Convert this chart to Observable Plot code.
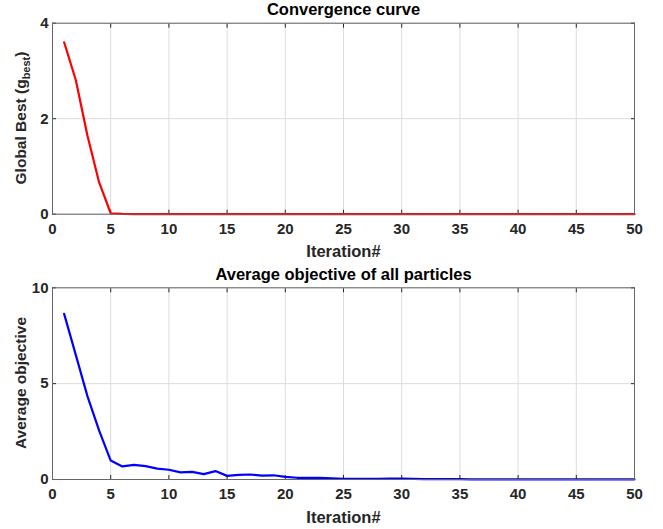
<!DOCTYPE html>
<html>
<head>
<meta charset="utf-8">
<script src="https://cdn.jsdelivr.net/npm/d3@7"></script>
<script src="https://cdn.jsdelivr.net/npm/@observablehq/plot@0.6"></script>
<style>
  body { margin: 0; background: #fff; }
  #wrap { width: 663px; }
  svg { display: block; overflow: visible; }
</style>
</head>
<body>
<div id="wrap"></div>
<script>
const iterations = d3.range(1, 51);
const gBest = [3.6, 2.81, 1.65, 0.67, 0.02, 0.005, 0, 0, 0, 0,
  0, 0, 0, 0, 0, 0, 0, 0, 0, 0,
  0, 0, 0, 0, 0, 0, 0, 0, 0, 0,
  0, 0, 0, 0, 0, 0, 0, 0, 0, 0,
  0, 0, 0, 0, 0, 0, 0, 0, 0, 0];
const avgObjective = [8.64, 6.5, 4.35, 2.56, 0.99, 0.68, 0.76, 0.7, 0.57, 0.51,
  0.37, 0.4, 0.28, 0.44, 0.19, 0.24, 0.26, 0.2, 0.22, 0.14,
  0.09, 0.09, 0.08, 0.06, 0.04, 0.04, 0.03, 0.04, 0.05, 0.05,
  0.03, 0.02, 0.02, 0.02, 0.02, 0.01, 0.01, 0.01, 0.01, 0.01,
  0.01, 0.01, 0.01, 0.01, 0.01, 0.01, 0.01, 0.01, 0.01, 0.01];
const xTicks = [0, 5, 10, 15, 20, 25, 30, 35, 40, 45, 50];
const topYTicks = [0, 2, 4];
const botYTicks = [0, 5, 10];
const topTitle = "Convergence curve";
const botTitle = "Average objective of all particles";
const xLabel = "Iteration#";

const FONT = "'Liberation Sans', Arial, Helvetica, sans-serif";
const axisColor = "#262626";

function panel({values, color, yDomain, yTicks, title, height, marginTop, marginBottom, titleTop}) {
  const data = iterations.map((it, i) => ({it, v: values[i]}));
  return Plot.plot({
    width: 663,
    height,
    marginLeft: 52,
    marginRight: 29,
    marginTop,
    marginBottom,
    style: {fontFamily: FONT, fontSize: "15px", fontWeight: "bold", color: axisColor, background: "#fff"},
    x: {domain: [0, 50], ticks: xTicks, label: null},
    y: {domain: yDomain, ticks: yTicks, label: null},
    marks: [
      Plot.gridX(xTicks, {stroke: "#dcdcdc", strokeOpacity: 1}),
      Plot.gridY(yTicks, {stroke: "#dcdcdc", strokeOpacity: 1}),
      Plot.axisX(xTicks, {anchor: "bottom", tickSize: -4, text: null, stroke: axisColor}),
      Plot.axisX(xTicks, {anchor: "top", tickSize: -4, text: null, stroke: axisColor, label: null}),
      Plot.axisX(xTicks, {anchor: "bottom", tickSize: 0, tickPadding: 9, fontSize: 15, fontWeight: "bold", label: null}),
      Plot.axisY(yTicks, {anchor: "left", tickSize: -4, text: null, stroke: axisColor}),
      Plot.axisY(yTicks, {anchor: "right", tickSize: -4, text: null, stroke: axisColor, label: null}),
      Plot.axisY(yTicks, {anchor: "left", tickSize: 0, tickPadding: 4, fontSize: 15, fontWeight: "bold", label: null}),
      Plot.line(data, {x: "it", y: "v", stroke: color, strokeWidth: 2.2}),
      Plot.frame({stroke: "#666", strokeWidth: 1}),
      Plot.text([title], {frameAnchor: "top", dy: -marginTop + titleTop, fontSize: 16.5, fontWeight: "bold", fill: "#000"}),
      Plot.text([xLabel], {frameAnchor: "bottom", dy: 43, fontSize: 16.5, fontWeight: "bold", fill: axisColor})
    ]
  });
}

const wrap = document.getElementById("wrap");

const topPlot = panel({values: gBest, color: "#ff0000", yDomain: [0, 4], yTicks: topYTicks,
  title: topTitle, height: 265, marginTop: 22.7, marginBottom: 51.3, titleTop: 2.5});
wrap.appendChild(topPlot);

const botPlot = panel({values: avgObjective, color: "#0000ff", yDomain: [0, 10], yTicks: botYTicks,
  title: botTitle, height: 264, marginTop: 22.3, marginBottom: 50, titleTop: 2.5});
wrap.appendChild(botPlot);

const t1 = d3.select(topPlot).append("text")
  .attr("transform", "translate(26,118) rotate(-90)")
  .attr("text-anchor", "middle")
  .attr("font-family", FONT).attr("font-size", 15.5).attr("font-weight", "bold")
  .attr("fill", axisColor);
t1.append("tspan").text("Global Best (g");
t1.append("tspan").attr("font-size", 11).attr("dy", 4).text("best");
t1.append("tspan").attr("dy", -4).text(")");

d3.select(botPlot).append("text")
  .attr("transform", "translate(26,118) rotate(-90)")
  .attr("text-anchor", "middle")
  .attr("font-family", FONT).attr("font-size", 15.5).attr("font-weight", "bold")
  .attr("fill", axisColor)
  .text("Average objective");
</script>
</body>
</html>
